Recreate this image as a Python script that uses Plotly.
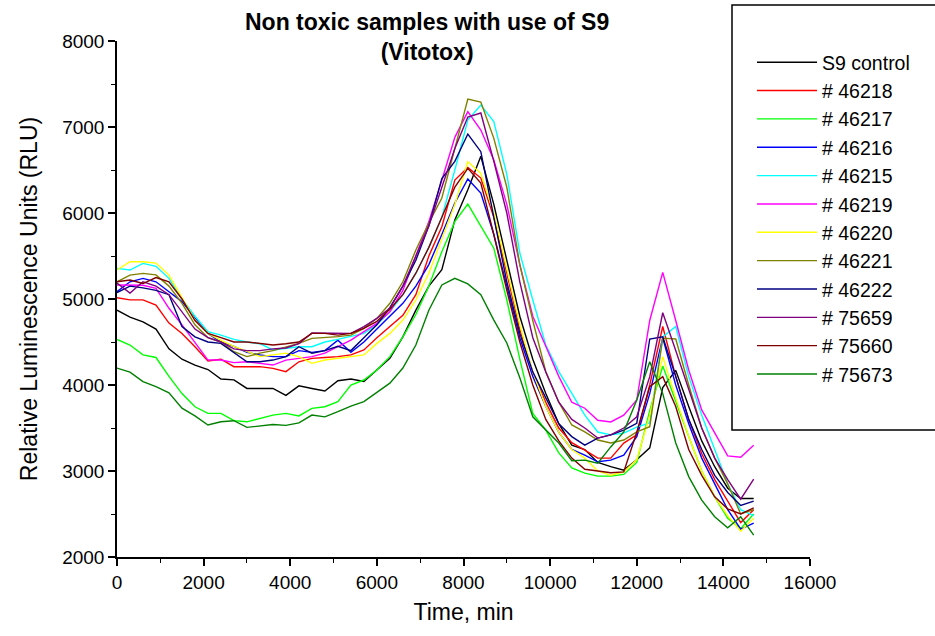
import plotly.graph_objects as go

time_min = [0, 300, 600, 900, 1200, 1500, 1800, 2100, 2400, 2700,
            3000, 3300, 3600, 3900, 4200, 4500, 4800, 5100, 5400, 5700,
            6000, 6300, 6600, 6900, 7200, 7500, 7800, 8100, 8400, 8700,
            9000, 9300, 9600, 9900, 10200, 10500, 10800, 11100, 11400, 11700,
            12000, 12300, 12600, 12900, 13200, 13500, 13800, 14100, 14400, 14700]

s9_control = [4870, 4790, 4735, 4650, 4420, 4300, 4230, 4180, 4070, 4060,
              3960, 3960, 3960, 3880, 3990, 3960, 3930, 4050, 4070, 4040,
              4175, 4310, 4560, 4870, 5150, 5340, 5920, 6270, 6660, 6100,
              5450, 4800, 4300, 3900, 3550, 3300, 3250, 3100, 3050, 3010,
              3130, 3270, 3970, 4170, 3750, 3350, 3050, 2800, 2680, 2680]
s46218 = [5015, 4990, 4990, 4930, 4720, 4600, 4445, 4280, 4300, 4213,
          4213, 4213, 4194, 4155, 4270, 4310, 4320, 4330, 4350, 4407,
          4550, 4680, 4810, 5050, 5500, 5840, 6383, 6530, 6406, 5950,
          5300, 4650, 4150, 3800, 3500, 3330, 3243, 3150, 3150, 3325,
          3420, 4000, 4680, 4100, 3600, 3200, 2900, 2650, 2400, 2550]
s46217 = [4530, 4465, 4350, 4320, 4100, 3900, 3747, 3670, 3670, 3585,
          3572, 3615, 3650, 3670, 3640, 3728, 3747, 3806, 4000, 4058,
          4174, 4330, 4560, 4820, 5150, 5550, 5900, 6104, 5840, 5590,
          4988, 4300, 3670, 3475, 3210, 3035, 2975, 2940, 2940, 2960,
          3100, 3700, 4220, 3800, 3400, 3000, 2700, 2450, 2330, 2500]
s46216 = [5085, 5200, 5240, 5200, 5085, 4970, 4780, 4600, 4500, 4450,
          4380, 4350, 4330, 4330, 4400, 4380, 4400, 4520, 4380, 4500,
          4650, 4800, 4950, 5150, 5400, 5750, 6116, 6395, 6232, 5750,
          5150, 4550, 4100, 3750, 3450, 3250, 3185, 3107, 3127, 3185,
          3400, 3900, 4550, 4000, 3550, 3150, 2850, 2550, 2325, 2395]
s46215 = [5356, 5337, 5414, 5380, 5240, 5000, 4800, 4620, 4580, 4530,
          4500, 4480, 4407, 4425, 4445, 4445, 4500, 4530, 4562, 4600,
          4700, 4850, 5050, 5300, 5600, 5950, 6500, 7081, 7256, 7062,
          6450, 5535, 4988, 4465, 4155, 3900, 3650, 3453, 3420, 3440,
          3510, 3560, 4560, 4680, 4100, 3650, 3250, 2850, 2550, 2480]
s46219 = [5163, 5160, 5160, 5124, 4892, 4700, 4488, 4290, 4290, 4260,
          4271, 4250, 4232, 4290, 4310, 4330, 4370, 4445, 4523, 4620,
          4717, 4850, 5100, 5500, 5900, 6380, 6880, 7178, 6965, 6616,
          6100, 5400, 4800, 4450, 4100, 3800, 3730, 3590, 3570, 3650,
          3825, 4750, 5310, 4750, 4175, 3710, 3440, 3175, 3160, 3300]
s46220 = [5337, 5434, 5434, 5418, 5278, 5010, 4755, 4600, 4520, 4450,
          4387, 4330, 4350, 4370, 4330, 4252, 4290, 4310, 4330, 4350,
          4484, 4600, 4755, 4988, 5300, 5700, 6100, 6596, 6461, 6000,
          5350, 4700, 4150, 3750, 3450, 3250, 3150, 3000, 2950, 2990,
          3130, 3650, 4330, 3850, 3400, 3000, 2700, 2480, 2300, 2450]
s46221 = [5200, 5278, 5298, 5280, 5150, 4950, 4700, 4550, 4500, 4387,
          4330, 4370, 4400, 4445, 4484, 4542, 4550, 4562, 4580, 4659,
          4775, 4950, 5200, 5570, 5884, 6174, 6750, 7325, 7290, 6868,
          6300, 5400, 4750, 4155, 3800, 3535, 3455, 3360, 3325, 3360,
          3455, 3515, 4545, 4535, 4000, 3500, 3150, 2850, 2500, 2550]
s46222 = [5074, 5150, 5130, 5100, 5050, 4680, 4560, 4500, 4484, 4380,
          4270, 4270, 4290, 4330, 4445, 4370, 4400, 4450, 4400, 4550,
          4700, 4900, 5150, 5450, 5850, 6400, 6600, 6918, 6713, 5950,
          5200, 4600, 4150, 3850, 3550, 3400, 3300, 3383, 3420, 3475,
          3555, 4535, 4560, 4100, 3600, 3250, 2950, 2750, 2600, 2650]
s75659 = [5186, 5070, 5200, 5150, 5050, 4850, 4650, 4550, 4500, 4420,
          4400, 4400, 4420, 4430, 4480, 4605, 4605, 4600, 4600, 4678,
          4775, 4892, 5150, 5500, 5850, 6300, 6750, 7116, 7163, 6600,
          6000, 5200, 4550, 4150, 3800, 3600, 3500, 3383, 3420, 3500,
          3630, 4097, 4840, 4400, 3950, 3500, 3150, 2900, 2673, 2906]
s75660 = [5200, 5220, 5180, 5250, 5200, 5000, 4750, 4600, 4550, 4500,
          4500, 4480, 4465, 4480, 4500, 4600, 4600, 4580, 4600, 4659,
          4740, 4880, 5050, 5300, 5600, 5950, 6300, 6520, 6348, 5750,
          5100, 4500, 4000, 3600, 3350, 3150, 3020, 3000, 2980, 2990,
          3450, 3980, 4097, 3750, 3250, 2950, 2700, 2560, 2500, 2570]
s75673 = [4197, 4150, 4040, 3980, 3910, 3730, 3640, 3535, 3572, 3585,
          3507, 3523, 3540, 3530, 3560, 3650, 3630, 3690, 3755, 3806,
          3910, 4022, 4197, 4465, 4870, 5163, 5240, 5175, 5050, 4755,
          4488, 4085, 3630, 3475, 3325, 3120, 3127, 3090, 3280, 3455,
          3825, 4270, 3900, 3325, 2935, 2662, 2468, 2340, 2468, 2255]

series_names = ["S9 control", "# 46218", "# 46217", "# 46216", "# 46215", "# 46219",
                "# 46220", "# 46221", "# 46222", "# 75659", "# 75660", "# 75673"]
series_values = [s9_control, s46218, s46217, s46216, s46215, s46219,
                 s46220, s46221, s46222, s75659, s75660, s75673]
series_colors = ["#000000", "#FF0000", "#00FF00", "#0000FF", "#00FFFF", "#FF00FF",
                 "#FFFF00", "#808000", "#000080", "#800080", "#800000", "#008000"]

x_ticks = [0, 2000, 4000, 6000, 8000, 10000, 12000, 14000, 16000]
y_ticks = [2000, 3000, 4000, 5000, 6000, 7000, 8000]

title_line1 = "Non toxic samples with use of S9"
title_line2 = "(Vitotox)"

FONT = "Liberation Sans, Arial, Helvetica, sans-serif"

fig = go.Figure()
for name, vals, col in zip(series_names, series_values, series_colors):
    fig.add_trace(go.Scatter(x=time_min, y=vals, name=name, mode="lines",
                             line=dict(color=col, width=1.4)))

W, H = 935, 636
L, R, T, B = 117, 125, 41, 79
pw, ph = W - L - R, H - T - B

def px_x(p):
    return (p - L) / pw

def px_y(p):
    return (H - B - p) / ph

fig.add_shape(type="rect", xref="paper", yref="paper",
              x0=px_x(732), x1=px_x(945), y0=px_y(430), y1=px_y(5),
              line=dict(color="black", width=1.5), fillcolor="rgba(0,0,0,0)", layer="below")

fig.add_annotation(text="<b>" + title_line1 + "</b><br><b>" + title_line2 + "</b>",
                   xref="paper", yref="paper", x=px_x(427), y=px_y(7),
                   xanchor="center", yanchor="top", showarrow=False, align="center",
                   font=dict(size=23, family=FONT, color="black"))

fig.update_layout(
    width=W, height=H,
    margin=dict(l=L, r=R, t=T, b=B),
    paper_bgcolor="white", plot_bgcolor="white",
    font=dict(family=FONT, color="black"),
    showlegend=True,
    legend=dict(x=px_x(752), y=px_y(43), xanchor="left", yanchor="top",
                font=dict(size=19.5, family=FONT, color="black"),
                bgcolor="rgba(0,0,0,0)", borderwidth=0, itemwidth=60,
                tracegroupgap=0),
    xaxis=dict(range=[0, 16000], tickvals=x_ticks, tickformat="d", ticks="outside", ticklen=7,
               tickwidth=1.5, tickcolor="black", showline=True, linecolor="black",
               linewidth=1.5, showgrid=False, zeroline=False,
               tickfont=dict(size=19, family=FONT, color="black"),
               minor=dict(dtick=1000, ticks="outside", ticklen=4, tickwidth=1.2, tickcolor="black"),
               title=dict(text="Time, min", font=dict(size=23, family=FONT, color="black"), standoff=12)),
    yaxis=dict(range=[2000, 8000], tickvals=y_ticks, tickformat="d", ticks="outside", ticklen=7,
               tickwidth=1.5, tickcolor="black", showline=True, linecolor="black",
               linewidth=1.5, showgrid=False, zeroline=False,
               tickfont=dict(size=19, family=FONT, color="black"),
               minor=dict(dtick=500, ticks="outside", ticklen=4, tickwidth=1.2, tickcolor="black"),
               title=dict(text="Relative Luminescence Units (RLU)",
                          font=dict(size=23, family=FONT, color="black"), standoff=18)),
)

fig.write_html("out.html")
